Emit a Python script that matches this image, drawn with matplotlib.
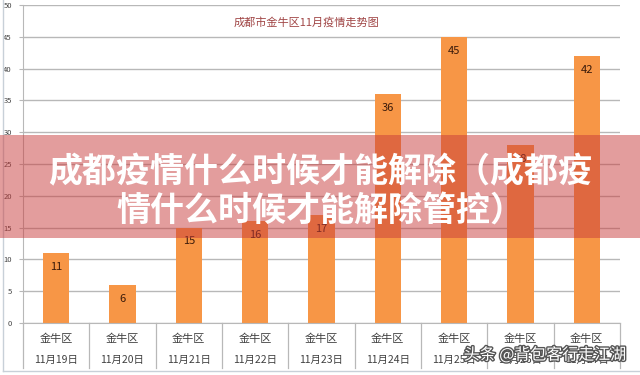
import matplotlib
matplotlib.use("Agg")
import matplotlib.pyplot as plt
import matplotlib.patheffects as pe
from matplotlib.lines import Line2D
from matplotlib.patches import Rectangle
import numpy as np

plt.rcParams['font.family'] = ['Noto Sans CJK SC', 'DejaVu Sans']

# 数据
districts = ['金牛区'] * 9
dates = ['11月19日', '11月20日', '11月21日', '11月22日', '11月23日',
         '11月24日', '11月25日', '11月26日', '11月27日']
cases = [11, 6, 15, 16, 17, 36, 45, 28, 42]
yticks = [0, 5, 10, 15, 20, 25, 30, 35, 40, 45, 50]

title = '成都市金牛区11月疫情走势图'
headline = '成都疫情什么时候才能解除（成都疫\n情什么时候才能解除管控）'
watermark = '头条 @背包客行走江湖'

fig = plt.figure(figsize=(6.4, 3.75), dpi=100)
ax = fig.add_axes([23 / 640, 1 - 323 / 375, 597 / 640, 318 / 375])

x = np.arange(len(cases))
bars = ax.bar(x, cases, width=0.4, color='#F79646', zorder=2)

# 数值标签（柱顶内侧）
for xi, v in zip(x, cases):
    ax.annotate(str(v), (xi, v), xytext=(0, -10), textcoords='offset points',
                ha='center', va='center', fontsize=8, color='#3a1a0a', zorder=3)

ax.set_xlim(-0.5, len(cases) - 0.5)
ax.set_ylim(0, 50)
ax.set_yticks(yticks)
ax.set_yticklabels([str(t) for t in yticks], fontsize=5.5, color='#444444')
ax.yaxis.grid(True, color='#b8b8b8', linewidth=1.0, zorder=0)
ax.tick_params(axis='y', length=3, color='#b8b8b8', pad=5)
ax.set_xticks([])
for s in ['top', 'right']:
    ax.spines[s].set_visible(False)
ax.spines['left'].set_color('#b8b8b8')
ax.spines['bottom'].set_color('#b8b8b8')

# 两级分类轴
trans = ax.get_xaxis_transform()
for b in np.arange(len(cases) + 1) - 0.5:
    ax.plot([b, b], [0, -0.142], transform=trans, color='#b8b8b8',
            linewidth=0.9, clip_on=False)
for xi, d, dt in zip(x, districts, dates):
    ax.text(xi, -0.05, d, transform=trans, ha='center', va='center',
            fontsize=8, color='#404040')
    ax.text(xi, -0.117, dt, transform=trans, ha='center', va='center',
            fontsize=7.5, color='#404040')

# 标题
fig.text(306 / 640, 1 - 22 / 375, title, ha='center', va='center',
         fontsize=8, color='#a04545')

# 图表边框
fig.add_artist(Line2D([3 / 640, 3 / 640], [1 - 371 / 375, 1], color='#c8d0d8', linewidth=1))
fig.add_artist(Line2D([3 / 640, 1], [1 - 371 / 375, 1 - 371 / 375], color='#c8d0d8', linewidth=1))

# 红色横幅
fig.add_artist(Rectangle((0, 1 - 238 / 375), 1, 103 / 375, transform=fig.transFigure,
                         facecolor='#c83c3c', alpha=0.5, edgecolor='none', zorder=5))
fig.text(320 / 640, 1 - 191 / 375, headline, ha='center', va='center',
         fontsize=24.5, fontweight='bold', color='white', linespacing=1.1, zorder=6)

# 水印
fig.text(545 / 640, 1 - 355 / 375, watermark, ha='center', va='center',
         fontsize=11.5, color='white', zorder=7,
         path_effects=[pe.withStroke(linewidth=2, foreground='#555555')])

fig.savefig('out.png', dpi=100)
